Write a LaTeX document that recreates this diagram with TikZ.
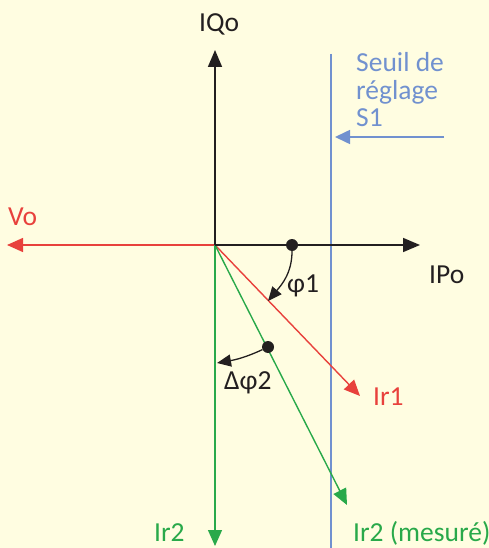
\documentclass[tikz,border=0pt]{standalone}
\usepackage{fontspec}
\setmainfont{Carlito}
\usepackage{tikz}
\usetikzlibrary{arrows.meta, positioning}
\definecolor{bgcream}{HTML}{FFFDE1}
\definecolor{axisblack}{HTML}{231F20}
\definecolor{vecred}{HTML}{E8413C}
\definecolor{vecgreen}{HTML}{29A94A}
\definecolor{seuilblue}{HTML}{7191CF}

\begin{document}
\begin{tikzpicture}[
  x=1pt, y=1pt,
  axis/.style={axisblack, line width=1.7pt, -{Triangle[length=17pt, width=14pt]}},
  vec/.style={line width=1.4pt, -{Triangle[length=16pt, width=14pt]}},
  angarc/.style={axisblack, line width=1.3pt, -{Triangle[length=14pt, width=12pt]}},
  pivot/.style={circle, fill=axisblack, inner sep=0pt, minimum size=12pt},
  lbl/.style={inner sep=0pt, anchor=base west, font=\fontsize{27.5}{27.5}\selectfont}
]
\fill[bgcream] (0,0) rectangle (489,-548);
\useasboundingbox (0,0) rectangle (489,-548);

% points of the diagram
\coordinate (O) at (215,-245);
\coordinate (iqtip) at (215,-50);
\coordinate (iptip) at (420,-245);
\coordinate (votip) at (7,-245);
\coordinate (ir1tip) at (360,-396);
\coordinate (ir2mtip) at (347,-505);
\coordinate (ir2tip) at (215,-546);
\coordinate (s1top) at (331,-54);
\coordinate (s1bot) at (331,-548);
\coordinate (s1start) at (444,-137);
\coordinate (s1tip) at (335,-137);
\coordinate (phitip) at (268,-301);
\coordinate (dphitip) at (217,-363);

% threshold
\draw[seuilblue, line width=1.4pt] (s1top) -- (s1bot);
\draw[seuilblue, line width=1.6pt, -{Triangle[length=15pt, width=14pt]}] (s1start) -- (s1tip);

% vectors
\draw[vec, vecred] (O) -- (votip);
\draw[vec, vecred] (O) -- (ir1tip);
\draw[vec, vecgreen] (O) -- (ir2mtip);
\draw[vec, vecgreen] (O) -- (ir2tip);
\draw[axis] (O) -- (iqtip);
\draw[axis] (O) -- (iptip);

% angles
\node[pivot] (phidot) at (292,-245) {};
\node[pivot] (dphidot) at (268,-347) {};
\draw[angarc] (phidot) to[out=-90, in=50] (phitip);
\draw[angarc] (dphidot) to[out=-155, in=10] (dphitip);

% labels
\node[lbl, axisblack] (iqlbl) at (199,-32) {IQo};
\node[lbl, axisblack] (iplbl) at (429,-283) {IPo};
\node[lbl, vecred] (volbl) at (8,-225) {Vo};
\node[lbl, seuilblue, align=left] (s1lbl) at (356,-127) {Seuil de\\réglage\\S1};
\node[lbl, axisblack] (philbl) at (287,-292) {φ1};
\node[lbl, axisblack] (dphilbl) at (224,-389) {Δφ2};
\node[lbl, vecred] (ir1lbl) at (373,-405) {Ir1};
\node[lbl, vecgreen] (ir2lbl) at (154,-541) {Ir2};
\node[lbl, vecgreen] (ir2mlbl) at (353,-541) {Ir2 (mesuré)};
\end{tikzpicture}
\end{document}
